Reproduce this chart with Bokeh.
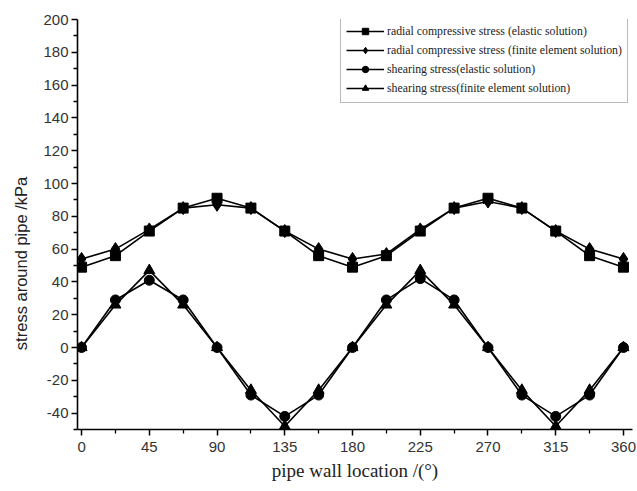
from bokeh.plotting import figure
from bokeh.models import FixedTicker, Range1d, Legend, LegendItem, CustomJSTickFormatter
from bokeh.embed import file_html
from bokeh.resources import INLINE

angles = [0, 22.5, 45, 67.5, 90, 112.5, 135, 157.5, 180, 202.5, 225, 247.5, 270, 292.5, 315, 337.5, 360]
radial_elastic = [49, 56, 71, 85, 91, 85, 71, 56, 49, 56, 71, 85, 91, 85, 71, 56, 49]
radial_fe = [54, 60, 72, 85, 87, 85, 71, 60, 54, 57, 72, 85, 89, 85, 71, 60, 54]
shear_elastic = [0, 29, 41, 29, 0, -29, -42, -29, 0, 29, 42, 29, 0, -29, -42, -29, 0]
shear_fe = [0, 26, 47, 26, 0, -26, -48, -26, 0, 26, 47, 26, 0, -26, -48, -26, 0]

x_ticks = [0, 45, 90, 135, 180, 225, 270, 315, 360]
x_minor = [22.5, 67.5, 112.5, 157.5, 202.5, 247.5, 292.5, 337.5]
y_ticks = [-40, -20, 0, 20, 40, 60, 80, 100, 120, 140, 160, 180, 200]
y_minor = [-50, -30, -10, 10, 30, 50, 70, 90, 110, 130, 150, 170, 190]

labels = [
    "radial compressive stress (elastic solution)",
    "radial compressive stress (finite element solution)",
    "shearing stress(elastic solution)",
    "shearing stress(finite element solution)",
]
x_title = "pipe wall location /(°)"
y_title = "stress around pipe /kPa"

p = figure(width=636, height=489, output_backend="svg", toolbar_location=None,
           x_range=Range1d(-2.7, 366), y_range=Range1d(-50, 200),
           min_border_left=77, min_border_right=4, min_border_top=19, min_border_bottom=60)
p.outline_line_color = None
p.xgrid.visible = False
p.ygrid.visible = False
p.background_fill_color = "white"

series = [
    (radial_elastic, "square", 10),
    (radial_fe, "diamond", 13),
    (shear_elastic, "circle", 10),
    (shear_fe, "triangle", 11),
]
items = []
for (vals, marker, size), lab in zip(series, labels):
    l = p.line(angles, vals, line_color="black", line_width=1.6)
    s = p.scatter(angles, vals, marker=marker, size=size, fill_color="black", line_color="black")
    items.append(LegendItem(label=lab, renderers=[l, s]))

legend = Legend(items=items, location=(263, 326), glyph_width=38, glyph_height=16,
                label_height=18, spacing=1, padding=5, margin=0,
                label_text_font="Liberation Serif", label_text_font_size="11.8px",
                label_text_color="#222222", label_standoff=3,
                border_line_color="#777777", border_line_width=1.2,
                background_fill_alpha=1.0)
p.add_layout(legend)

fmt = "return String(tick);"
for ax in (p.xaxis[0], p.yaxis[0]):
    ax.axis_line_width = 1.6
    ax.axis_line_color = "black"
    ax.major_tick_line_color = "black"
    ax.minor_tick_line_color = "black"
    ax.major_tick_line_width = 1.5
    ax.minor_tick_line_width = 1.3
    ax.major_tick_out = 6
    ax.major_tick_in = 0
    ax.minor_tick_out = 4
    ax.minor_tick_in = 0
    ax.major_label_text_font = "Liberation Sans"
    ax.major_label_text_font_size = "15px"
    ax.major_label_text_color = "#333333"
    ax.formatter = CustomJSTickFormatter(code=fmt)

p.xaxis.ticker = FixedTicker(ticks=x_ticks, minor_ticks=x_minor)
p.yaxis.ticker = FixedTicker(ticks=y_ticks, minor_ticks=y_minor)
p.xaxis.major_label_standoff = 6
p.yaxis.major_label_standoff = 3

p.xaxis.axis_label = x_title
p.xaxis.axis_label_text_font = "Liberation Serif"
p.xaxis.axis_label_text_font_style = "normal"
p.xaxis.axis_label_text_font_size = "19px"
p.xaxis.axis_label_text_color = "#222222"
p.xaxis.axis_label_standoff = 5

# trailing non-breaking spaces shift the rotated title down, as in the reference
p.yaxis.axis_label = y_title + "\u00a0" * 17
p.yaxis.axis_label_text_font = "Liberation Sans"
p.yaxis.axis_label_text_font_style = "normal"
p.yaxis.axis_label_text_font_size = "16.5px"
p.yaxis.axis_label_text_color = "#222222"
p.yaxis.axis_label_standoff = 10

open("out.html", "w").write(file_html(p, INLINE))
